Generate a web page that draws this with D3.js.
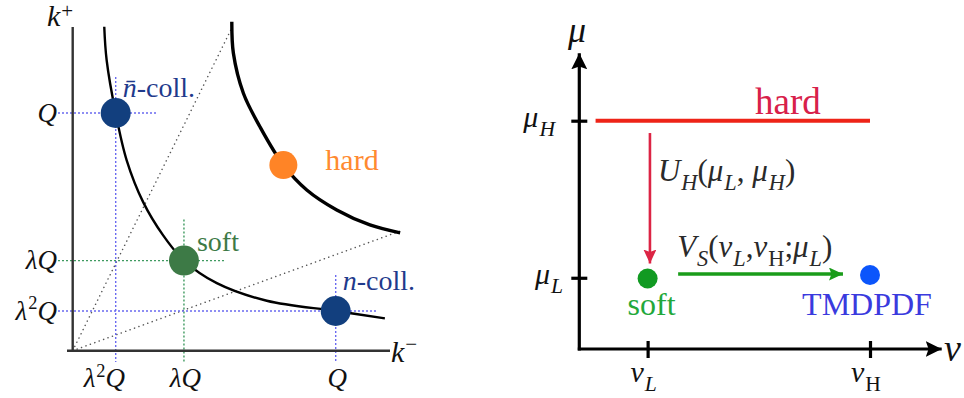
<!DOCTYPE html>
<html><head><meta charset="utf-8">
<script src="https://cdn.jsdelivr.net/npm/d3@7"></script>
</head><body style="margin:0;background:#fff">
<svg id="c" width="964" height="398" font-family="Liberation Serif" style="display:block"></svg>
<script>
// ---------------- DATA (left panel: momentum regions) ----------------
const kMinusTickValues = [0.164, 0.423, 1.0];
const kMinusTickLabels = ["λ²Q", "λQ", "Q"];
const kPlusTickValues  = [0.167, 0.379, 1.0];
const kPlusTickLabels  = ["λ²Q", "λQ", "Q"];

const lowerCurveKMinus = [0.120, 0.129, 0.1635, 0.205, 0.268, 0.344, 0.423, 0.548, 0.738, 1.0, 1.187];
const lowerCurveKPlus  = [1.363, 1.223, 0.999, 0.802, 0.625, 0.485, 0.379, 0.284, 0.210, 0.167, 0.136];
const upperCurveKMinus = [0.605, 0.611, 0.649, 0.712, 0.801, 0.890, 1.004, 1.130, 1.245];
const upperCurveKPlus  = [1.384, 1.251, 1.083, 0.942, 0.781, 0.676, 0.592, 0.529, 0.496];

const diagonalEndKMinus = [0.601, 1.257];
const diagonalEndKPlus  = [1.349, 0.508];

const regionNames   = ["n̄-coll.", "soft", "n-coll.", "hard"];
const regionKMinus  = [0.1635, 0.423, 1.0, 0.801];
const regionKPlus   = [1.0, 0.379, 0.167, 0.781];
const regionHasGuides = [true, true, true, false];

// ---------------- DATA (right panel: evolution in mu / nu) ----------------
const nuTickValues = [0.235, 1.0];
const nuTickLabels = [[["ν","i"],["L","is"]], [["ν","i"],["H","rs"]]];
const muTickValues = [0.312, 1.0];
const muTickLabels = [[["μ","i"],["L","is"]], [["μ","i"],["H","is"]]];

const hardLineNu = [0.056, 1.0];
const hardLineMu = 1.0;
const scalePointNames = ["soft", "TMDPDF"];
const scalePointNu = [0.235, 1.0];
const scalePointMu = [0.309, 0.324];
const muEvolutionNu = 0.243;
const muEvolutionMu = [0.946, 0.3745];
const nuEvolutionMu = 0.3285;
const nuEvolutionNu = [0.340, 0.907];
const muEvolutionLabel = [["U","i"],["H","is"],["(","r"],["μ","i"],["L","is"],[", ","r"],["μ","i"],["H","is"],[")","r"]];
const nuEvolutionLabel = [["V","i"],["S","is"],["(","r"],["ν","i"],["L","is"],[",","r"],["ν","i"],["H","rs"],[";","r"],["μ","i"],["L","is"],[")","r"]];

// ---------------- LAYOUT / STYLE ----------------
const FONT = "Liberation Serif";
const svg = d3.select("#c");
function setFont(s) { return s.attr("font-family", FONT).style("font-family", '"Liberation Serif", monospace'); }
function txt(parent) { return setFont(parent.append("text")); }
function span(parent) { return setFont(parent.append("tspan")); }

function mathText(g, parts, size, color) {
  let shift = 0;
  parts.forEach(([t, s]) => {
    const sub = s.includes("s");
    const target = sub ? size * 0.3 : 0;
    const ts = span(g).text(t)
      .attr("font-style", s.startsWith("i") ? "italic" : "normal")
      .attr("font-size", sub ? size * 0.72 : size)
      .attr("dy", target - shift);
    if (sub) ts.attr("dx", 1);
    shift = target;
  });
  if (color) g.attr("fill", color);
}
function supText(g, label, size) {
  const pieces = label.split("²");
  pieces.forEach((p, i) => {
    if (i > 0) {
      span(g).text("2").attr("font-style", "normal")
        .attr("font-size", size * 0.68).attr("dy", -size * 0.38).attr("dx", 1);
    }
    if (p.length) {
      span(g).text(p).attr("font-style", "italic")
        .attr("font-size", size).attr("dy", i > 0 ? size * 0.38 : 0);
    }
  });
}

// ================= LEFT PANEL =================
const xL = d3.scaleLinear().domain([0, 1]).range([72.7, 335.7]);
const yL = d3.scaleLinear().domain([0, 1]).range([350.7, 113]);
const L = svg.append("g");

diagonalEndKMinus.forEach((km, i) => {
  L.append("line")
    .attr("x1", xL(0)).attr("y1", yL(0))
    .attr("x2", xL(km)).attr("y2", yL(diagonalEndKPlus[i]))
    .attr("stroke", "#555").attr("stroke-width", 1.5)
    .attr("stroke-dasharray", "0.1 4.6").attr("stroke-linecap", "round");
});

const guideColor = ["#6a6af0", "#3f9a60", "#6a6af0"];
regionNames.forEach((n, i) => {
  if (!regionHasGuides[i]) return;
  const px = xL(regionKMinus[i]), py = yL(regionKPlus[i]);
  L.append("line").attr("x1", 58).attr("x2", px + 42).attr("y1", py).attr("y2", py)
    .attr("stroke", guideColor[i]).attr("stroke-width", 1.4).attr("stroke-dasharray", "2 2");
  L.append("line").attr("x1", px).attr("x2", px).attr("y1", py - (i === 1 ? 41 : 36)).attr("y2", 362)
    .attr("stroke", guideColor[i]).attr("stroke-width", 1.4).attr("stroke-dasharray", "2 2");
});

L.append("line").attr("x1", 72.7).attr("x2", 72.7).attr("y1", 27).attr("y2", 352)
  .attr("stroke", "#333").attr("stroke-width", 2.4);
L.append("line").attr("x1", 67).attr("x2", 390).attr("y1", 350.7).attr("y2", 350.7)
  .attr("stroke", "#333").attr("stroke-width", 2.4);

const axL = L.append("g").attr("transform", "translate(57,0)")
  .call(d3.axisLeft(yL).tickValues(kPlusTickValues).tickSize(0).tickPadding(0).tickFormat(""));
axL.select(".domain").remove();
setFont(axL);
axL.selectAll(".tick text").each(function(d, i) {
  const t = setFont(d3.select(this)).attr("fill", "#111")
    .attr("x", 0).attr("y", 8).attr("dy", null).attr("text-anchor", "end");
  supText(t, kPlusTickLabels[i], 27);
});
const axB = L.append("g").attr("transform", "translate(0,387)")
  .call(d3.axisBottom(xL).tickValues(kMinusTickValues).tickSize(0).tickPadding(0).tickFormat(""));
axB.select(".domain").remove();
setFont(axB);
axB.selectAll(".tick text").each(function(d, i) {
  const lab = kMinusTickLabels[i];
  const t = setFont(d3.select(this)).attr("fill", "#111")
    .attr("y", 0).attr("dy", null).attr("text-anchor", "middle")
    .attr("x", lab.includes("²") ? -12 : 1);
  supText(t, lab, 27);
});

const kp = txt(L).attr("x", 47).attr("y", 26).attr("fill", "#111");
span(kp).text("k").attr("font-style", "italic").attr("font-size", 30);
span(kp).text("+").attr("font-size", 21).attr("dy", -8).attr("dx", 1);
const km = txt(L).attr("x", 391).attr("y", 362).attr("fill", "#111");
span(km).text("k").attr("font-style", "italic").attr("font-size", 30);
span(km).text("−").attr("font-size", 21).attr("dy", -11).attr("dx", 1);

const line = d3.line().x(d => xL(d[0])).y(d => yL(d[1])).curve(d3.curveCatmullRom.alpha(0.5));
L.append("path").attr("d", line(d3.zip(lowerCurveKMinus, lowerCurveKPlus)))
  .attr("fill", "none").attr("stroke", "#000").attr("stroke-width", 2.4);
L.append("path").attr("d", line(d3.zip(upperCurveKMinus, upperCurveKPlus)))
  .attr("fill", "none").attr("stroke", "#000").attr("stroke-width", 3.4);

const dotColor = ["#123f7e", "#3d7a46", "#123f7e", "#ff8426"];
const labColor = ["#1f3a8c", "#3d7a46", "#1f3a8c", "#ff8a30"];
const labDx = [7, 13, 7, 42], labDy = [-16, -10, -21, 5];
regionNames.forEach((n, i) => {
  const px = xL(regionKMinus[i]), py = yL(regionKPlus[i]);
  L.append("circle").attr("cx", px).attr("cy", py).attr("r", i === 3 ? 14 : 15).attr("fill", dotColor[i]);
  const t = txt(L).attr("x", px + labDx[i]).attr("y", py + labDy[i])
    .attr("font-size", i === 3 ? 30 : 28).attr("fill", labColor[i]);
  if (n.includes("coll")) {
    const head = n.split("-")[0];
    span(t).text(head).attr("font-style", "italic");
    span(t).text("-coll.");
  } else t.text(n);
});

// ================= RIGHT PANEL =================
const xR = d3.scaleLinear().domain([0, 1]).range([579.3, 870]);
const yR = d3.scaleLinear().domain([0, 1]).range([349, 120.7]);
const R = svg.append("g");

const defs = svg.append("defs");
function marker(id, color, len, half) {
  defs.append("marker").attr("id", id).attr("markerUnits", "userSpaceOnUse")
    .attr("viewBox", `0 ${-half} ${len} ${2 * half}`).attr("refX", len).attr("refY", 0)
    .attr("markerWidth", len).attr("markerHeight", 2 * half).attr("orient", "auto")
    .append("path").attr("d", `M0,${-half}L${len},0L0,${half}L${len * 0.18},0Z`).attr("fill", color);
}
marker("ax", "#000", 16, 8);
marker("red", "#dc2444", 14, 6.5);
marker("grn", "#1a9c1a", 14, 6.5);

R.append("line").attr("x1", xR(0)).attr("x2", xR(0)).attr("y1", yR(0) + 1.5).attr("y2", 53.3)
  .attr("stroke", "#000").attr("stroke-width", 3.2).attr("marker-end", "url(#ax)");
R.append("line").attr("x1", xR(0) - 1.5).attr("x2", 941.7).attr("y1", yR(0)).attr("y2", yR(0))
  .attr("stroke", "#000").attr("stroke-width", 3.2).attr("marker-end", "url(#ax)");

const ayR = R.append("g").attr("transform", `translate(${xR(0) + 8},0)`)
  .call(d3.axisLeft(yR).tickValues(muTickValues).tickSize(16).tickFormat(""));
ayR.select(".domain").remove();
ayR.selectAll(".tick text").remove();
ayR.selectAll(".tick line").attr("stroke", "#000").attr("stroke-width", 3.2);
const axR = R.append("g").attr("transform", `translate(0,${yR(0) - 8})`)
  .call(d3.axisBottom(xR).tickValues(nuTickValues).tickSize(17).tickFormat(""));
axR.select(".domain").remove();
axR.selectAll(".tick text").remove();
axR.selectAll(".tick line").attr("stroke", "#000").attr("stroke-width", 3.2);

const muLabX = [563, 555];
muTickValues.forEach((v, i) => {
  const t = txt(R).attr("x", muLabX[i]).attr("y", yR(v) + 6)
    .attr("text-anchor", "end").attr("fill", "#111");
  mathText(t, muTickLabels[i], 30);
});
nuTickValues.forEach((v, i) => {
  const t = txt(R).attr("x", xR(v) - 4).attr("y", 382)
    .attr("text-anchor", "middle").attr("fill", "#111");
  mathText(t, nuTickLabels[i], 30);
});
txt(R).attr("x", 568).attr("y", 42).attr("font-style", "italic")
  .attr("font-size", 36).attr("fill", "#111").text("μ");
txt(R).attr("x", 944).attr("y", 361).attr("font-style", "italic")
  .attr("font-size", 38).attr("fill", "#111").text("ν");

R.append("line").attr("x1", xR(hardLineNu[0])).attr("x2", xR(hardLineNu[1]))
  .attr("y1", yR(hardLineMu)).attr("y2", yR(hardLineMu))
  .attr("stroke", "#ee2418").attr("stroke-width", 4);
txt(R).attr("x", 755).attr("y", yR(hardLineMu) - 7)
  .attr("font-size", 37).attr("fill", "#d8204a").text("hard");

R.append("line").attr("x1", xR(muEvolutionNu)).attr("x2", xR(muEvolutionNu))
  .attr("y1", yR(muEvolutionMu[0])).attr("y2", yR(muEvolutionMu[1]))
  .attr("stroke", "#dc2444").attr("stroke-width", 2.6).attr("marker-end", "url(#red)");
R.append("line").attr("x1", xR(nuEvolutionNu[0])).attr("x2", xR(nuEvolutionNu[1]))
  .attr("y1", yR(nuEvolutionMu)).attr("y2", yR(nuEvolutionMu))
  .attr("stroke", "#1a9c1a").attr("stroke-width", 3.4).attr("marker-end", "url(#grn)");

const tU = txt(R).attr("x", xR(muEvolutionNu) + 8).attr("y", 181);
mathText(tU, muEvolutionLabel, 31, "#2a2a2a");
const tV = txt(R).attr("x", xR(nuEvolutionNu[0]) - 1).attr("y", 257);
mathText(tV, nuEvolutionLabel, 31, "#2a2a2a");

const ptColor = ["#119a22", "#0b55fb"];
const ptLabColor = ["#22a83a", "#3a3ade"];
scalePointNames.forEach((n, i) => {
  const px = xR(scalePointNu[i]), py = yR(scalePointMu[i]);
  R.append("circle").attr("cx", px).attr("cy", py).attr("r", 10).attr("fill", ptColor[i]);
  txt(R).attr("x", px + (i === 0 ? 4 : -3)).attr("y", 315).attr("text-anchor", "middle")
    .attr("font-size", 32).attr("fill", ptLabColor[i]).text(n);
});
</script>
</body></html>
